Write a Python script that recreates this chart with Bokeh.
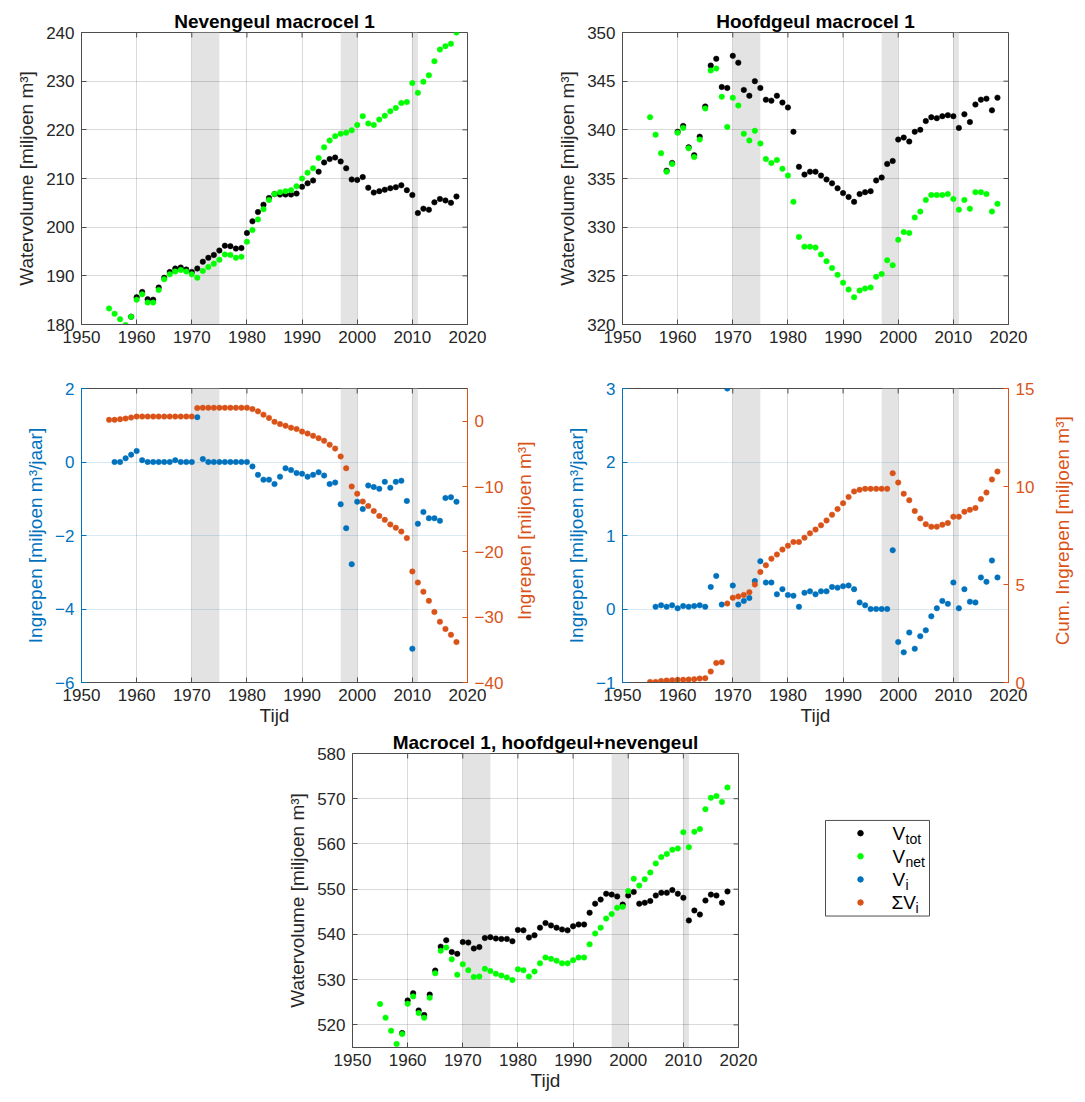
import numpy as np
from bokeh.plotting import figure
from bokeh.models import Range1d, LinearAxis, FixedTicker, BoxAnnotation, Spacer
from bokeh.layouts import column, row
from bokeh.embed import file_html
from bokeh.resources import INLINE
from bokeh.core.properties import value

# ---------------- data ----------------
years = [1955, 1956, 1957, 1958, 1959, 1960, 1961, 1962, 1963, 1964,
         1965, 1966, 1967, 1968, 1969, 1970, 1971, 1972, 1973, 1974,
         1975, 1976, 1977, 1978, 1979, 1980, 1981, 1982, 1983, 1984,
         1985, 1986, 1987, 1988, 1989, 1990, 1991, 1992, 1993, 1994,
         1995, 1996, 1997, 1998, 1999, 2000, 2001, 2002, 2003, 2004,
         2005, 2006, 2007, 2008, 2009, 2010, 2011, 2012, 2013, 2014,
         2015, 2016, 2017, 2018]
x_ticks = [1950, 1960, 1970, 1980, 1990, 2000, 2010, 2020]
shade_start = [1970, 1997, 2010]
shade_end = [1975, 2000, 2011]

# Nevengeul macrocel 1
nev_vnet = [183.3, 182.2, 181.1, 179.9, 181.6, 185.1, 186.2, 184.5, 184.5, 187.1,
            189.3, 190.3, 190.9, 191.2, 190.9, 190.3, 189.6, 191.0, 191.8, 192.5,
            193.3, 194.4, 194.3, 193.7, 193.9, 197.0, 199.4, 201.6, 203.7, 205.6,
            206.8, 207.2, 207.4, 207.6, 208.4, 210.0, 211.2, 212.1, 214.2, 216.4,
            217.8, 218.7, 219.2, 219.4, 219.9, 221.0, 222.8, 221.3, 221.0, 222.1,
            222.9, 223.8, 224.5, 225.5, 225.7, 229.6, 227.6, 229.9, 231.2, 234.1,
            236.5, 237.2, 237.7, 240.0]
nev_vtot = [None, None, None, None, 181.6, 185.6, 186.7, 185.2, 185.1, 187.6,
            189.6, 190.8, 191.5, 191.7, 191.3, 190.8, 191.5, 192.9, 193.7, 194.3,
            195.2, 196.2, 196.1, 195.6, 195.7, 198.8, 201.2, 203.1, 204.6, 206.0,
            206.8, 206.7, 206.7, 206.7, 206.9, 208.3, 209.0, 209.6, 211.4, 213.3,
            214.0, 214.3, 213.5, 212.1, 209.8, 209.7, 210.3, 208.1, 207.1, 207.4,
            207.7, 208.0, 208.2, 208.6, 207.6, 206.6, 202.9, 203.8, 203.6, 205.1,
            205.8, 205.5, 205.0, 206.3]
nev_vi = [None, 0.0, 0.0, 0.1, 0.2, 0.3, 0.05, 0.0, 0.0, 0.0,
          0.0, 0.0, 0.05, 0.0, 0.0, 0.0, 1.22, 0.08, 0.0, 0.0,
          0.0, 0.0, 0.0, 0.0, 0.0, 0.0, -0.12, -0.35, -0.48, -0.48,
          -0.6, -0.4, -0.17, -0.22, -0.3, -0.32, -0.4, -0.35, -0.28, -0.37,
          -0.6, -0.56, -1.15, -1.8, -2.78, -1.08, -1.28, -0.64, -0.68, -0.73,
          -0.54, -0.7, -0.54, -0.51, -1.06, -5.08, -1.68, -1.36, -1.53, -1.53,
          -1.6, -0.98, -0.96, -1.08]
nev_cum = [0.2, 0.2, 0.3, 0.4, 0.55, 0.7, 0.7, 0.7, 0.7, 0.7,
           0.7, 0.7, 0.7, 0.7, 0.7, 0.7, 2.0, 2.05, 2.05, 2.05,
           2.05, 2.05, 2.05, 2.05, 2.05, 2.05, 1.85, 1.5, 1.0, 0.5,
           -0.1, -0.45, -0.7, -1.0, -1.2, -1.6, -1.9, -2.25, -2.6, -3.0,
           -3.6, -4.2, -5.4, -7.2, -10.0, -11.1, -12.3, -13.0, -13.75, -14.5,
           -15.1, -15.8, -16.3, -16.9, -17.9, -23.0, -24.7, -26.1, -27.5, -29.2,
           -30.7, -31.8, -32.7, -33.8]

# Hoofdgeul macrocel 1
hfd_vnet = [341.3, 339.5, 337.6, 335.7, 336.5, 339.7, 340.2, 338.1, 337.2, 339.0,
            342.2, 346.1, 346.3, 343.4, 340.3, 343.3, 342.5, 339.6, 338.9, 339.9,
            338.6, 337.0, 336.6, 336.9, 336.0, 335.3, 332.6, 329.0, 328.0, 328.0,
            327.9, 327.2, 326.5, 325.8, 325.1, 324.3, 323.6, 322.8, 323.5, 323.7,
            323.8, 324.9, 325.2, 326.6, 326.1, 328.7, 329.5, 329.4, 331.0, 331.6,
            332.8, 333.3, 333.3, 333.3, 333.4, 332.9, 331.8, 332.8, 331.9, 333.6,
            333.6, 333.4, 331.6, 332.4]
hfd_vtot = [None, None, None, 335.8, 336.6, 339.8, 340.4, 338.2, 337.4, 339.3,
            342.4, 346.6, 347.3, 344.4, 344.3, 347.6, 346.9, 344.1, 343.5, 345.0,
            344.3, 343.1, 343.0, 343.5, 342.8, 342.3, 339.8, 336.2, 335.4, 335.7,
            335.7, 335.3, 334.9, 334.5, 334.0, 333.5, 333.1, 332.6, 333.4, 333.6,
            333.7, 334.8, 335.1, 336.5, 336.8, 339.0, 339.2, 338.8, 339.8, 340.0,
            340.9, 341.3, 341.2, 341.4, 341.5, 341.4, 340.2, 341.6, 340.8, 342.6,
            343.1, 343.2, 342.0, 343.3]
hfd_vi = [None, 0.03, 0.05, 0.03, 0.05, 0.01, 0.04, 0.03, 0.04, 0.05,
          0.03, 0.3, 0.45, 0.06, 3.0, 0.32, 0.06, 0.11, 0.15, 0.38,
          0.65, 0.36, 0.36, 0.2, 0.27, 0.19, 0.18, 0.03, 0.22, 0.24,
          0.2, 0.24, 0.24, 0.3, 0.29, 0.31, 0.32, 0.27, 0.09, 0.05,
          0.0, 0.0, 0.0, 0.0, 0.8, -0.45, -0.59, -0.32, -0.54, -0.37,
          -0.29, -0.1, 0.01, 0.11, 0.07, 0.36, 0.01, 0.27, 0.1, 0.09,
          0.43, 0.37, 0.66, 0.43]
hfd_cum = [0.03, 0.03, 0.08, 0.1, 0.12, 0.14, 0.14, 0.15, 0.17, 0.2,
           0.22, 0.56, 1.0, 1.03, 4.03, 4.32, 4.39, 4.47, 4.61, 5.0,
           5.64, 5.98, 6.32, 6.53, 6.78, 6.98, 7.17, 7.17, 7.39, 7.61,
           7.8, 8.02, 8.27, 8.56, 8.85, 9.15, 9.47, 9.75, 9.83, 9.88,
           9.88, 9.88, 9.88, 9.88, 10.68, 10.2, 9.63, 9.3, 8.75, 8.37,
           8.08, 7.95, 7.95, 8.05, 8.14, 8.46, 8.46, 8.71, 8.81, 8.9,
           9.36, 9.69, 10.36, 10.76]

# Macrocel 1, hoofdgeul+nevengeul
tot_vnet = [524.6, 521.6, 518.7, 515.8, 518.0, 524.7, 526.3, 522.6, 521.6, 526.0,
            531.4, 536.4, 537.1, 534.5, 531.1, 533.4, 532.1, 530.6, 530.7, 532.4,
            531.9, 531.3, 530.9, 530.5, 529.9, 532.3, 532.1, 530.7, 531.8, 533.6,
            534.9, 534.6, 534.2, 533.6, 533.6, 534.3, 534.9, 534.9, 537.8, 540.2,
            541.5, 543.5, 544.5, 545.9, 546.1, 549.6, 552.3, 550.8, 552.2, 553.7,
            555.7, 557.1, 557.8, 558.7, 559.0, 562.6, 559.3, 562.7, 563.3, 567.7,
            570.2, 570.6, 569.3, 572.5]
tot_vtot = [None, None, None, None, 518.2, 525.4, 527.0, 523.2, 522.2, 526.7,
            532.0, 537.3, 538.7, 536.1, 535.7, 538.3, 538.2, 536.9, 537.2, 539.2,
            539.4, 539.1, 539.0, 539.0, 538.5, 541.0, 540.9, 539.3, 539.8, 541.5,
            542.5, 542.0, 541.5, 541.1, 540.9, 541.8, 542.2, 542.2, 544.8, 546.8,
            547.7, 549.0, 548.8, 548.4, 546.6, 548.6, 549.4, 546.8, 547.0, 547.4,
            548.6, 549.2, 549.2, 549.8, 549.0, 548.1, 543.1, 545.3, 544.4, 547.5,
            548.8, 548.6, 547.0, 549.5]

legend_labels = ["V", "V", "V", "\u03a3V"]
legend_subs = ["tot", "net", "i", "i"]

# ---------------- style ----------------
FONT = "Liberation Sans"
TICK_FS = "17px"
LABEL_FS = "19px"
TITLE_FS = "19px"
AXC = "#262626"
BOX = "#4d4d4d"
BLUE = "#0072BD"
ORANGE = "#D95319"
GREEN = "#00FF00"
BLACK = "#000000"
SHADE = "#e3e3e3"
MS = 5.5
FW = 386  # frame width in px

X = np.array(years, dtype=float)


def arr(v):
    return np.array([np.nan if a is None else a for a in v], dtype=float)


def style_axis(ax, color, xaxis=False):
    ax.axis_line_color = color
    ax.major_tick_line_color = color
    ax.major_tick_in = 5
    ax.major_tick_out = 0
    ax.minor_tick_line_color = None
    ax.major_label_text_color = color if color != BOX else AXC
    ax.major_label_text_font = FONT
    ax.major_label_text_font_size = TICK_FS
    ax.axis_label_text_font = FONT
    ax.axis_label_text_font_size = LABEL_FS
    ax.axis_label_text_font_style = "normal"
    ax.axis_label_text_color = color if color != BOX else AXC
    if xaxis:
        ax.major_label_standoff = 6
        ax.axis_label_standoff = 1
    else:
        ax.major_label_standoff = 7
        ax.axis_label_standoff = 6


def frame_ticks(p, yr, yticks, frame_h, right=True):
    # small inward tick marks on the top (and right) edge, like a boxed MATLAB axes
    d = 5.0 * (yr[1] - yr[0]) / frame_h
    n = len(x_ticks)
    p.segment(x0=x_ticks, y0=[yr[1]] * n, x1=x_ticks, y1=[yr[1] - d] * n,
              line_color=BOX, line_width=1)
    if right:
        dx = 5.0 * 70 / FW
        m = len(yticks)
        p.segment(x0=[2020] * m, y0=yticks, x1=[2020 - dx] * m, y1=yticks,
                  line_color=BOX, line_width=1)


def base(width, height, mb, yr, yticks, ylabel, title=None, ycolor=BOX,
         ygrid_color="black", xlabel=None):
    p = figure(width=width, height=height, x_range=Range1d(1950, 2020),
               y_range=Range1d(*yr), output_backend="svg", toolbar_location=None,
               min_border_left=mb[0], min_border_right=mb[1],
               min_border_top=mb[2], min_border_bottom=mb[3])
    p.outline_line_color = BOX
    p.outline_line_width = 1
    for a, b in zip(shade_start, shade_end):
        p.add_layout(BoxAnnotation(left=a, right=b, fill_color=SHADE, fill_alpha=1.0,
                                   line_color=None, level="image"))
    xa = p.xaxis[0]
    xa.ticker = FixedTicker(ticks=x_ticks)
    style_axis(xa, BOX, xaxis=True)
    if xlabel:
        xa.axis_label = xlabel
    ya = p.yaxis[0]
    ya.ticker = FixedTicker(ticks=yticks)
    style_axis(ya, ycolor)
    ya.axis_label = ylabel
    p.xgrid.ticker = FixedTicker(ticks=x_ticks)
    p.ygrid.ticker = FixedTicker(ticks=yticks)
    p.xgrid.grid_line_color = "black"
    p.xgrid.grid_line_alpha = 0.15
    p.ygrid.grid_line_color = ygrid_color
    p.ygrid.grid_line_alpha = 0.15
    if title:
        p.title.text = title
        p.title.align = "center"
        p.title.text_font = FONT
        p.title.text_font_size = TITLE_FS
        p.title.text_font_style = "bold"
        p.title.text_color = "black"
        p.title.standoff = 2
        p.title.offset = 0
    return p


def dots(p, y, color, range_name="default"):
    p.scatter(X, arr(y), size=MS, fill_color=color, line_color=color, line_width=0.5,
              y_range_name=range_name)


def right_axis(p, rng, ticks):
    p.extra_y_ranges = {"r": Range1d(*rng)}
    ax = LinearAxis(y_range_name="r", ticker=FixedTicker(ticks=ticks))
    style_axis(ax, ORANGE)
    p.add_layout(ax, "right")


def side_title(text, width, height, cx, cy_from_top):
    # narrow strip carrying the right-hand axis title, reading bottom-to-top
    f = figure(width=width, height=height, x_range=Range1d(0, width),
               y_range=Range1d(height, 0), x_axis_type=None, y_axis_type=None,
               output_backend="svg", toolbar_location=None, min_border=0)
    f.outline_line_color = None
    f.xgrid.visible = False
    f.ygrid.visible = False
    f.text(x=[cx], y=[cy_from_top], text=[text], angle=np.pi / 2,
           text_font=value(FONT), text_font_size=LABEL_FS, text_color=ORANGE,
           text_align="center", text_baseline="middle")
    return f


WV = "Watervolume [miljoen m\u00b3]"

# top-left
yt1 = [180, 190, 200, 210, 220, 230, 240]
p1 = base(527, 354, (81, 60, 32, 30), (180, 240), yt1, WV, title="Nevengeul macrocel 1")
frame_ticks(p1, (180, 240), yt1, 292)
dots(p1, nev_vtot, BLACK)
dots(p1, nev_vnet, GREEN)

# top-right
yt2 = [320, 325, 330, 335, 340, 345, 350]
p2 = base(541, 354, (95, 60, 32, 30), (320, 350), yt2, WV, title="Hoofdgeul macrocel 1")
frame_ticks(p2, (320, 350), yt2, 292)
dots(p2, hfd_vtot, BLACK)
dots(p2, hfd_vnet, GREEN)

# mid-left
yt3 = [-6, -4, -2, 0, 2]
p3 = base(507, 374, (81, 40, 34, 45), (-6, 2), yt3,
          "Ingrepen [miljoen m\u00b3/jaar]", ycolor=BLUE, ygrid_color=BLUE, xlabel="Tijd")
right_axis(p3, (-40, 5), [-40, -30, -20, -10, 0])
frame_ticks(p3, (-6, 2), yt3, 295, right=False)
dots(p3, nev_vi, BLUE)
dots(p3, nev_cum, ORANGE, "r")
t3 = side_title("Ingrepen [miljoen m\u00b3]", 30, 374, 17, 181)

# mid-right
yt4 = [-1, 0, 1, 2, 3]
p4 = base(511, 374, (85, 40, 34, 45), (-1, 3), yt4,
          "Ingrepen [miljoen m\u00b3/jaar]", ycolor=BLUE, ygrid_color=BLUE, xlabel="Tijd")
right_axis(p4, (0, 15), [0, 5, 10, 15])
frame_ticks(p4, (-1, 3), yt4, 295, right=False)
dots(p4, hfd_vi, BLUE)
dots(p4, hfd_cum, ORANGE, "r")
t4 = side_title("Cum. Ingrepen [miljoen m\u00b3]", 30, 374, 14, 181)

# bottom
yt5 = [520, 530, 540, 550, 560, 570, 580]
p5 = base(487, 369, (81, 20, 25, 50), (515, 580), yt5, WV,
          title="Macrocel 1, hoofdgeul+nevengeul", xlabel="Tijd")
frame_ticks(p5, (515, 580), yt5, 294)
dots(p5, tot_vtot, BLACK)
dots(p5, tot_vnet, GREEN)

# legend panel
LW, LH = 190, 369
leg = figure(width=LW, height=LH, x_range=Range1d(0, LW), y_range=Range1d(LH, 0),
             x_axis_type=None, y_axis_type=None, output_backend="svg",
             toolbar_location=None, min_border=0)
leg.outline_line_color = None
leg.xgrid.visible = False
leg.ygrid.visible = False
leg.quad(left=[67], right=[171], top=[84], bottom=[204], fill_color="white",
         line_color=BOX, line_width=1)
ly = [100, 129, 158, 187]
leg.scatter(x=[102] * 4, y=ly, size=MS, color=[BLACK, GREEN, BLUE, ORANGE])
leg.text(x=[134, 134, 134, 133], y=ly, text=legend_labels, text_font=value(FONT),
         text_font_size="19px", text_baseline="middle", text_align="left",
         text_color="black")
leg.text(x=[147, 147, 147, 157], y=[y + 7 for y in ly], text=legend_subs,
         text_font=value(FONT), text_font_size="14px", text_baseline="middle",
         text_align="left", text_color="black")

layout = column(row(p1, p2), row(p3, t3, p4, t4),
                row(Spacer(width=271, height=369), p5, leg))

open("out.html", "w").write(file_html(layout, INLINE))
